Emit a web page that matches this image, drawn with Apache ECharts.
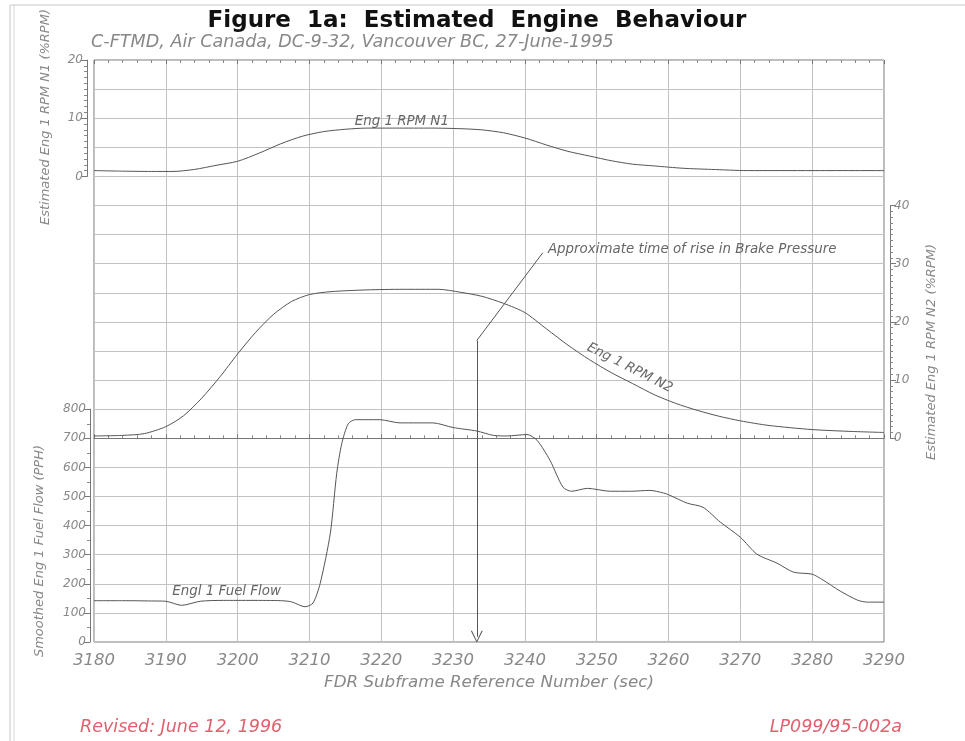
<!DOCTYPE html>
<html>
<head>
<meta charset="utf-8">
<script src="https://cdn.jsdelivr.net/npm/echarts@6/dist/echarts.min.js"></script>
<style>
  html, body { margin: 0; padding: 0; background: #fff; }
  #main { width: 965px; height: 741px; }
</style>
</head>
<body>
<div id="main"></div>
<script>
// x axis: FDR subframe reference number (sec)
const xMin = 3180
const xMax = 3290

// Eng 1 RPM N1 (%RPM), top panel
const n1Time = [3180, 3184, 3188, 3191, 3194, 3197, 3200, 3203, 3206, 3209, 3212, 3215, 3218, 3222, 3227, 3231, 3234, 3237, 3240, 3243, 3246, 3249, 3252, 3255, 3258, 3262, 3266, 3271, 3280, 3290]
const n1Rpm = [1.0, 0.9, 0.85, 0.85, 1.2, 1.9, 2.6, 4.0, 5.6, 6.9, 7.7, 8.1, 8.3, 8.3, 8.3, 8.2, 8.0, 7.5, 6.6, 5.4, 4.3, 3.5, 2.7, 2.1, 1.8, 1.4, 1.2, 1.0, 1.0, 1.0]

// Eng 1 RPM N2 (%RPM), right axis
const n2Time = [3180, 3184, 3187, 3190, 3192.5, 3195, 3197.5, 3200, 3202.5, 3205, 3207.5, 3210, 3213, 3218, 3223, 3228, 3231, 3234, 3237, 3240, 3243, 3246, 3249, 3252, 3255, 3258, 3261, 3264, 3267, 3270, 3274, 3280, 3285, 3290]
const n2Rpm = [0.4, 0.5, 0.8, 2.0, 3.9, 6.9, 10.5, 14.5, 18.2, 21.3, 23.5, 24.7, 25.2, 25.5, 25.6, 25.6, 25.1, 24.4, 23.2, 21.6, 18.8, 16.0, 13.5, 11.3, 9.4, 7.5, 6.0, 4.8, 3.8, 3.0, 2.2, 1.5, 1.2, 1.0]

// Smoothed Eng 1 fuel flow (PPH), bottom panel
const fuelTime = [3180, 3184, 3188, 3190, 3192.2, 3194.8, 3198, 3202, 3206, 3207.5, 3209.4, 3210.5, 3211.5, 3212.9, 3213.8, 3214.5, 3215.4, 3216.4, 3218, 3219.8, 3222.6, 3225, 3227.2, 3230, 3233.3, 3235.6, 3237.5, 3240.3, 3241.7, 3243.5, 3245.3, 3246.5, 3248.7, 3251.9, 3254.7, 3257.4, 3259.3, 3260.2, 3262.6, 3264.8, 3267.2, 3270, 3272.3, 3275.1, 3277.4, 3280, 3281.5, 3283.9, 3286.3, 3287.7, 3290]
const fuelFlow = [142, 142, 141, 140, 126, 140, 143, 143, 142, 138, 121, 134, 202, 373, 580, 682, 750, 764, 764, 764, 753, 753, 753, 737, 725, 710, 708, 713, 693, 624, 532, 518, 528, 518, 518, 521, 512, 504, 477, 463, 412, 360, 302, 271, 240, 233, 213, 175, 144, 137, 137]

// brake pressure arrow, in N2 units of the full-height scale
const brakeTime = [3242.5, 3233.3, 3233.3]
const brakeLevel = [31.9, 16.8, -34.1]

const pair = (xs, ys) => xs.map((x, i) => [x, ys[i]])

var chart = echarts.init(document.getElementById('main'))

const rowH = 582 / 20
const gray = '#888'
const curve = '#555'
const font = 'DejaVu Sans'

function valueAxis(grid, min, max, interval, pos, offset, minor) {
  return {
    type: 'value', gridIndex: grid, min: min, max: max, interval: interval,
    position: pos, offset: offset,
    axisLine: { show: true, lineStyle: { color: '#777', width: 1 } },
    axisTick: { show: true, length: 6, lineStyle: { color: '#777' } },
    minorTick: { show: true, splitNumber: minor, length: 3, lineStyle: { color: '#888' } },
    axisLabel: { color: gray, fontSize: 12, fontStyle: 'italic', fontFamily: font, margin: 4 },
    splitLine: { show: false }
  }
}

function hiddenX(grid) {
  return { type: 'value', gridIndex: grid, min: xMin, max: xMax, show: false }
}

function curveSeries(name, xi, yi, data) {
  return {
    name: name, type: 'line', xAxisIndex: xi, yAxisIndex: yi,
    data: data, showSymbol: false, smooth: 0.25,
    lineStyle: { color: curve, width: 1 }
  }
}

const option = {
  animation: false,
  backgroundColor: '#fff',
  grid: [
    { left: 94, top: 60, width: 790, height: 582, show: true, borderColor: '#777', borderWidth: 1, outerBoundsMode: 'none' },
    { left: 94, top: 60, width: 790, height: rowH * 4, outerBoundsMode: 'none' },
    { left: 94, top: 60 + rowH * 5, width: 790, height: rowH * 8, outerBoundsMode: 'none' },
    { left: 94, top: 60 + rowH * 12, width: 790, height: rowH * 8, outerBoundsMode: 'none' }
  ],
  xAxis: [
    {
      type: 'value', gridIndex: 0, min: xMin, max: xMax, interval: 10, position: 'bottom',
      name: 'FDR Subframe Reference Number (sec)', nameLocation: 'middle', nameGap: 32,
      nameTextStyle: { color: gray, fontSize: 16.7, fontStyle: 'italic', fontFamily: font },
      axisLine: { show: true, lineStyle: { color: '#777' } },
      axisTick: { show: true, inside: true, length: 4, lineStyle: { color: '#777' } },
      minorTick: { show: true, splitNumber: 5, length: 3, lineStyle: { color: '#888' } },
      axisLabel: { color: gray, fontSize: 16.5, fontStyle: 'italic', fontFamily: font, margin: 10, formatter: v => String(v) },
      splitLine: { show: true, lineStyle: { color: '#c2c2c2', width: 1 } }
    },
    {
      type: 'value', gridIndex: 0, min: xMin, max: xMax, interval: 10, position: 'top',
      axisLine: { show: false },
      axisTick: { show: true, inside: true, length: 4, lineStyle: { color: '#777' } },
      minorTick: { show: true, splitNumber: 5, length: 3, lineStyle: { color: '#888' } },
      axisLabel: { show: false },
      splitLine: { show: false }
    },
    hiddenX(1), hiddenX(2), hiddenX(3)
  ],
  yAxis: [
    {
      type: 'value', gridIndex: 0, min: -35, max: 65, interval: 5,
      axisLine: { show: false }, axisTick: { show: false }, axisLabel: { show: false },
      splitLine: { show: true, lineStyle: { color: '#c2c2c2', width: 1 } }
    },
    valueAxis(1, 0, 20, 10, 'left', 7, 10),
    valueAxis(2, 0, 40, 10, 'right', 6, 10),
    valueAxis(3, 0, 800, 100, 'left', 4, 2)
  ],
  series: [
    curveSeries('Eng 1 RPM N1', 2, 1, pair(n1Time, n1Rpm)),
    curveSeries('Eng 1 RPM N2', 3, 2, pair(n2Time, n2Rpm)),
    curveSeries('Engl 1 Fuel Flow', 4, 3, pair(fuelTime, fuelFlow)),
    {
      type: 'lines', coordinateSystem: 'cartesian2d', xAxisIndex: 0, yAxisIndex: 0,
      symbol: 'none',
      data: [{ coords: [[brakeTime[0], brakeLevel[0]], [brakeTime[1], brakeLevel[1]]] }],
      lineStyle: { color: curve, width: 1, opacity: 1 }
    },
    {
      type: 'lines', coordinateSystem: 'cartesian2d', xAxisIndex: 0, yAxisIndex: 0,
      symbol: ['none', 'path://M5,0L10,12L9,12L5,2L1,12L0,12Z'], symbolSize: [7, 12],
      data: [{ coords: [[brakeTime[1], brakeLevel[1]], [brakeTime[2], brakeLevel[2]]] }],
      lineStyle: { color: curve, width: 1, opacity: 1 }
    }
  ]
}
chart.setOption(option)

// text placed against the axes once the grids exist
const onGrid = (g, t, v) => chart.convertToPixel({ gridIndex: g }, [t, v])
const onFull = (t, v) => chart.convertToPixel({ xAxisIndex: 0, yAxisIndex: 0 }, [t, v])
const small = { fill: '#666', fontSize: 13.4, fontStyle: 'italic', fontFamily: font }
const side = { fill: gray, fontSize: 13, fontStyle: 'italic', fontFamily: font, align: 'center', verticalAlign: 'middle' }
const red = { fill: '#e0606e', fontSize: 17.5, fontStyle: 'italic', fontFamily: font, verticalAlign: 'middle' }

const n1Pos = onGrid(1, 3216.3, 9.35)
const n2Pos = onGrid(2, 3254.6, 12.1)
const fuelPos = onGrid(3, 3190.9, 172)
const notePos = onFull(3243.2, 32.5)

chart.setOption({
  graphic: [
    // page frame
    { type: 'line', shape: { x1: 10, y1: 5, x2: 10, y2: 741 }, style: { stroke: '#c8c8c8', lineWidth: 1 } },
    { type: 'line', shape: { x1: 14, y1: 5, x2: 14, y2: 741 }, style: { stroke: '#d8d8d8', lineWidth: 1 } },
    { type: 'line', shape: { x1: 10, y1: 5, x2: 965, y2: 5 }, style: { stroke: '#c8c8c8', lineWidth: 1 } },
    // titles
    { type: 'text', x: 477, y: 21, style: { text: 'Figure  1a:  Estimated  Engine  Behaviour', fill: '#111', fontSize: 23, fontWeight: 'bold', fontFamily: 'DejaVu Sans', align: 'center', verticalAlign: 'middle' } },
    { type: 'text', x: 91, y: 42, style: { text: 'C-FTMD, Air Canada, DC-9-32, Vancouver BC, 27-June-1995', fill: gray, fontSize: 17.6, fontStyle: 'italic', fontFamily: font, align: 'left', verticalAlign: 'middle' } },
    // axis titles
    { type: 'text', x: 46, y: 117, rotation: Math.PI / 2, style: Object.assign({ text: 'Estimated Eng 1 RPM N1 (%RPM)' }, side) },
    { type: 'text', x: 932, y: 352, rotation: Math.PI / 2, style: Object.assign({ text: 'Estimated Eng 1 RPM N2 (%RPM)' }, side) },
    { type: 'text', x: 40, y: 551, rotation: Math.PI / 2, style: Object.assign({ text: 'Smoothed Eng 1 Fuel Flow (PPH)' }, side) },
    // curve labels
    { type: 'text', x: n1Pos[0], y: n1Pos[1], style: Object.assign({ text: 'Eng 1 RPM N1', align: 'left', verticalAlign: 'middle' }, small) },
    { type: 'text', x: n2Pos[0], y: n2Pos[1], rotation: -0.47, style: Object.assign({ text: 'Eng 1 RPM N2', align: 'center', verticalAlign: 'middle' }, small) },
    { type: 'text', x: fuelPos[0], y: fuelPos[1], style: Object.assign({ text: 'Engl 1 Fuel Flow', align: 'left', verticalAlign: 'middle' }, small) },
    { type: 'text', x: notePos[0], y: notePos[1], style: Object.assign({ text: 'Approximate time of rise in Brake Pressure', align: 'left', verticalAlign: 'middle' }, small) },
    // footer
    { type: 'text', x: 80, y: 727, style: Object.assign({ text: 'Revised: June 12, 1996', align: 'left' }, red) },
    { type: 'text', x: 902, y: 727, style: Object.assign({ text: 'LP099/95-002a', align: 'right' }, red) }
  ]
})
</script>
</body>
</html>
